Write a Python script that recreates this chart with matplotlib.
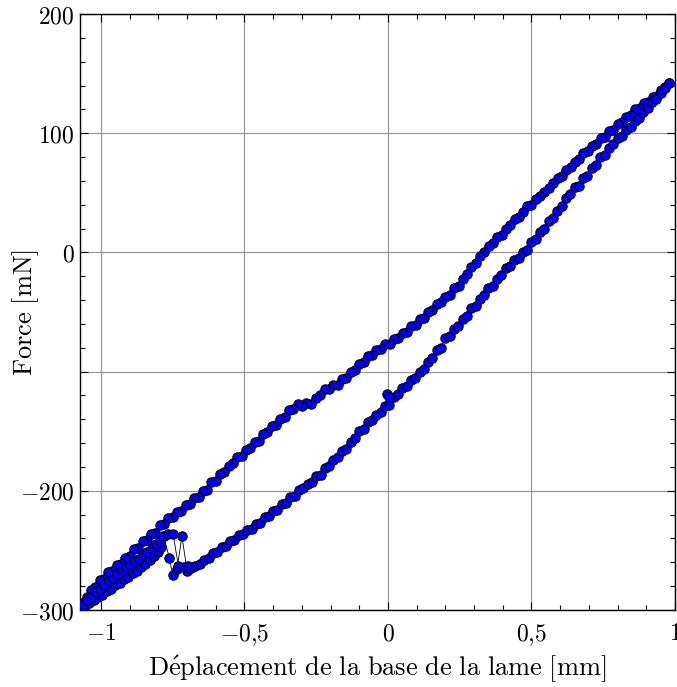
import matplotlib
matplotlib.use("Agg")
import matplotlib.pyplot as plt
from matplotlib.ticker import FixedLocator, FixedFormatter, MultipleLocator

plt.rcParams['mathtext.fontset'] = 'cm'
plt.rcParams['font.family'] = ['DejaVu Serif']

# Upper branch (decreasing displacement), x [mm], F [mN]
upper_branch = [
    (0.979, 142), (0.966, 139), (0.951, 136), (0.938, 131), (0.922, 130), (0.907, 126), (0.892, 125),
    (0.877, 121), (0.861, 120), (0.846, 115), (0.831, 114), (0.816, 109), (0.800, 108), (0.785, 103),
    (0.771, 102), (0.755, 97), (0.741, 96), (0.726, 91), (0.711, 89), (0.696, 85), (0.681, 83),
    (0.667, 78), (0.651, 76), (0.636, 72), (0.621, 69), (0.606, 64), (0.591, 62), (0.575, 58),
    (0.561, 54), (0.545, 51), (0.530, 47), (0.516, 45), (0.500, 40), (0.485, 39), (0.470, 34),
    (0.456, 30), (0.441, 28), (0.425, 23), (0.410, 20), (0.396, 15), (0.381, 13), (0.366, 8),
    (0.351, 5), (0.335, 0), (0.321, -3), (0.306, -9), (0.290, -12), (0.276, -18), (0.261, -22),
    (0.246, -28), (0.231, -30), (0.216, -36), (0.200, -37), (0.186, -42), (0.171, -43), (0.155, -48),
    (0.141, -50), (0.126, -55), (0.110, -56), (0.096, -61), (0.081, -62), (0.066, -67), (0.051, -68),
    (0.036, -72), (0.020, -73), (0.006, -77), (-0.010, -77), (-0.025, -81), (-0.040, -82), (-0.055, -86),
    (-0.070, -87), (-0.085, -92), (-0.100, -94), (-0.115, -99), (-0.130, -100), (-0.145, -105),
    (-0.160, -106), (-0.175, -111), (-0.190, -111), (-0.205, -115), (-0.220, -115), (-0.237, -120),
    (-0.252, -122), (-0.268, -127), (-0.285, -126), (-0.300, -129), (-0.315, -127), (-0.331, -131),
    (-0.345, -132), (-0.360, -138), (-0.375, -140), (-0.390, -145), (-0.405, -146), (-0.420, -151),
    (-0.435, -152), (-0.450, -158), (-0.465, -159), (-0.480, -164), (-0.495, -166), (-0.510, -171),
    (-0.525, -172), (-0.540, -177), (-0.555, -179), (-0.570, -184), (-0.585, -186), (-0.600, -192),
    (-0.615, -193), (-0.630, -199), (-0.645, -200), (-0.660, -205), (-0.675, -206), (-0.690, -211),
    (-0.705, -212), (-0.720, -217), (-0.735, -218), (-0.750, -222), (-0.765, -223), (-0.780, -228),
    (-0.795, -229), (-0.810, -235), (-0.825, -236), (-0.840, -241), (-0.855, -242), (-0.870, -248),
    (-0.885, -249), (-0.900, -255), (-0.915, -256), (-0.930, -261), (-0.945, -262), (-0.960, -267),
    (-0.975, -268), (-0.990, -274), (-1.005, -275), (-1.020, -281), (-1.035, -283), (-1.050, -289),
    (-1.065, -294),
]

# Second lower track on the left with the glitch
lower_track_b = [
    (-1.068, -299), (-1.055, -297), (-1.040, -294), (-1.025, -292), (-1.010, -289), (-0.995, -287),
    (-0.980, -284), (-0.965, -282), (-0.950, -279), (-0.935, -277), (-0.920, -274), (-0.905, -272),
    (-0.890, -269), (-0.875, -267), (-0.860, -264), (-0.845, -261), (-0.830, -258), (-0.815, -255),
    (-0.800, -251), (-0.790, -247), (-0.782, -238), (-0.762, -256), (-0.750, -271), (-0.735, -266),
    (-0.718, -238), (-0.700, -267), (-0.688, -265),
]

# Lower branch (increasing displacement)
lower_branch = [
    (-1.062, -296), (-1.048, -292), (-1.033, -289), (-1.018, -285), (-1.003, -282), (-0.988, -279),
    (-0.973, -276), (-0.958, -273), (-0.943, -270), (-0.928, -267), (-0.913, -264), (-0.898, -262),
    (-0.883, -259), (-0.868, -257), (-0.853, -254), (-0.838, -251), (-0.823, -248), (-0.808, -245),
    (-0.795, -242), (-0.785, -238), (-0.765, -236), (-0.749, -236), (-0.730, -263), (-0.712, -264),
    (-0.695, -263), (-0.672, -263), (-0.655, -261), (-0.640, -258),
    (-0.625, -256), (-0.610, -252), (-0.595, -251), (-0.580, -247), (-0.565, -246), (-0.550, -242),
    (-0.535, -241), (-0.520, -237), (-0.505, -236), (-0.490, -233), (-0.475, -232), (-0.460, -228),
    (-0.445, -227), (-0.430, -222), (-0.415, -221), (-0.400, -217), (-0.385, -216), (-0.370, -211),
    (-0.355, -210), (-0.340, -205), (-0.325, -204), (-0.310, -199), (-0.295, -198), (-0.280, -194),
    (-0.265, -193), (-0.250, -188), (-0.235, -187), (-0.220, -181), (-0.205, -179), (-0.190, -174),
    (-0.175, -172), (-0.160, -167), (-0.145, -165), (-0.130, -159), (-0.115, -156), (-0.100, -150),
    (-0.085, -148), (-0.070, -142), (-0.055, -141), (-0.040, -136), (-0.025, -134), (-0.010, -129),
    (0.005, -128), (0.020, -121), (0.035, -119), (0.050, -114), (0.065, -112), (0.080, -107),
    (0.095, -105), (0.110, -100), (0.125, -98), (0.140, -92), (0.155, -89), (0.170, -82),
    (0.185, -80), (0.200, -72), (0.215, -70), (0.230, -64), (0.245, -62), (0.260, -56),
    (0.275, -53), (0.290, -47), (0.305, -45), (0.320, -39), (0.335, -36), (0.350, -30),
    (0.365, -28), (0.380, -22), (0.395, -19), (0.410, -13), (0.425, -11), (0.440, -6),
    (0.455, -5), (0.470, 0), (0.485, 2), (0.500, 9), (0.515, 11), (0.530, 17), (0.545, 20),
    (0.560, 26), (0.575, 29), (0.590, 35), (0.605, 39), (0.620, 46), (0.635, 49), (0.650, 55),
    (0.665, 56), (0.680, 62), (0.695, 64), (0.710, 71), (0.725, 73), (0.740, 80), (0.755, 82),
    (0.770, 88), (0.785, 91), (0.800, 96), (0.815, 98), (0.830, 103), (0.845, 105), (0.860, 110),
    (0.875, 113), (0.890, 118), (0.905, 121), (0.920, 126), (0.935, 129), (0.950, 134),
    (0.965, 138), (0.979, 142),
]

lone_points = [(-0.003, -119), (0.004, -121)]

x_ticks = [-1, -0.5, 0, 0.5, 1]
x_ticklabels = [r'$-1$', r'$-0{,}5$', r'$0$', r'$0{,}5$', r'$1$']
y_ticks = [-300, -200, -100, 0, 100, 200]
y_ticklabels = [r'$-300$', r'$-200$', '', r'$0$', r'$100$', r'$200$']

fig = plt.figure(figsize=(6.77, 6.87), dpi=100)
ax = fig.add_axes([80 / 677, 1 - 610 / 687, 595 / 677, 596 / 687])

style = dict(color='black', lw=0.6, marker='o', ms=6.8, mfc='#0000ff', mec='black', mew=0.7)
for series in (upper_branch + lower_track_b, lower_branch, lone_points):
    xs = [p[0] for p in series]
    ys = [p[1] for p in series]
    ax.plot(xs, ys, **style, zorder=3)

ax.set_xlim(-1.073, 1.0)
ax.set_ylim(-300, 200)

ax.xaxis.set_major_locator(FixedLocator(x_ticks))
ax.xaxis.set_major_formatter(FixedFormatter(x_ticklabels))
ax.yaxis.set_major_locator(FixedLocator(y_ticks))
ax.yaxis.set_major_formatter(FixedFormatter(y_ticklabels))
ax.xaxis.set_minor_locator(MultipleLocator(0.1))
ax.yaxis.set_minor_locator(MultipleLocator(20))

ax.tick_params(which='both', direction='in', top=True, right=True, width=0.8)
ax.tick_params(axis='x', which='major', labelsize=17, pad=9)
ax.tick_params(axis='y', which='major', labelsize=17, pad=4)
ax.tick_params(which='major', length=6)
ax.tick_params(which='minor', length=3.5)
ax.grid(True, which='major', color='#999999', lw=0.9, zorder=0)
ax.set_axisbelow(True)
for s in ax.spines.values():
    s.set_linewidth(1.0)

ax.set_xlabel(r'$\mathrm{D\acute{e}placement\ de\ la\ base\ de\ la\ lame\ [mm]}$', fontsize=19)
ax.set_ylabel(r'$\mathrm{Force\ [mN]}$', fontsize=19)
ax.xaxis.set_label_coords(0.5, (610 - 654) / 596)
ax.yaxis.set_label_coords((41 - 80) / 595, 0.5)

fig.savefig('out.png', dpi=100)
